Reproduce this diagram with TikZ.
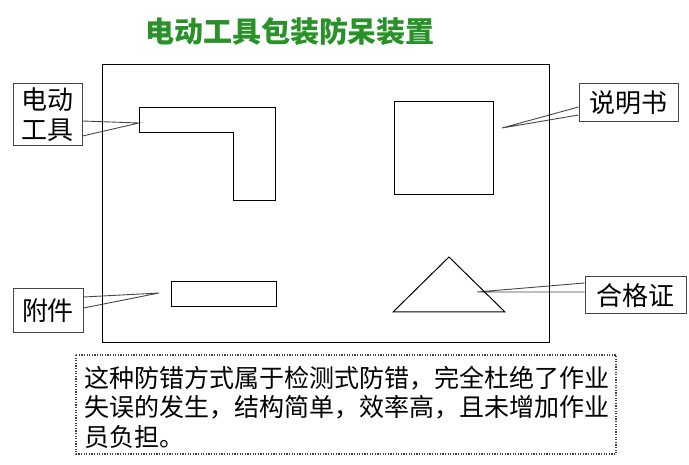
\documentclass[tikz,border=0pt]{standalone}
\usepackage{fontspec}
\newfontfamily\cjk{Noto Sans CJK SC}
\usetikzlibrary{calc}
\definecolor{titlegreen}{RGB}{40,145,40}
\definecolor{calloutgray}{RGB}{70,70,70}
\tikzset{
  outline/.style={draw=black, line width=1pt},
  callbox/.style={draw=calloutgray, line width=1pt, fill=white, inner sep=0pt, align=center,
    font=\cjk\fontsize{26}{30}\selectfont},
  wedge/.style={draw=calloutgray, line width=0.9pt},
}
\begin{document}
\begin{tikzpicture}[x=1pt,y=-1pt]
\useasboundingbox (0,0) rectangle (689,465);
% title
\node[font=\cjk\bfseries\fontsize{29}{30}\selectfont, text=titlegreen, inner sep=0pt] (title) at (290,31) {电动工具包装防呆装置};
% callouts (drawn first so the main frame shows through the pointers)
\coordinate (pA) at (139,123);
\coordinate (pB) at (502,128);
\coordinate (pC) at (159,293);
\coordinate (pD) at (477,292);
\node[callbox, minimum width=69pt, minimum height=62pt] (lA) at (47.5,115) {电动\\工具};
\node[callbox, minimum width=99pt, minimum height=38pt] (lB) at (628.5,103) {说明书};
\node[callbox, minimum width=70pt, minimum height=44pt] (lC) at (48,311) {附件};
\node[callbox, minimum width=101pt, minimum height=37pt] (lD) at (635.5,295.5) {合格证};
\draw[wedge] ([yshift=-6pt]lA.east) -- (pA) -- ([yshift=-21pt]lA.east);
\draw[wedge] ([yshift=-4pt]lB.west) -- (pB) -- ([yshift=-12pt]lB.west);
\draw[wedge] ([yshift=14pt]lC.east) -- (pC) -- ([yshift=3pt]lC.east);
\draw[wedge] ([yshift=12.5pt]lD.west) -- (pD) -- ([yshift=3.5pt]lD.west);
% main frame
\draw[outline] (102,65) rectangle (549,343);
% L-shaped tool
\draw[outline] (139,108) -- (275,108) -- (275,201) -- (233,201) -- (233,133) -- (139,133) -- cycle;
% manual square
\draw[outline] (394,102) rectangle (493,195);
% accessory
\draw[outline] (171,282) rectangle (276,307);
% certificate triangle
\draw[outline] (449,257) -- (505,312) -- (393,312) -- cycle;
% note box
\draw[draw=gray!50!black, line width=1.3pt, dash pattern=on 1.2pt off 1.4pt] (76,355) rectangle (616,454);
\node[anchor=west, align=left, inner sep=0pt, font=\cjk\fontsize{25}{29.5}\selectfont] (note) at (84,407) {这种防错方式属于检测式防错，完全杜绝了作业\\失误的发生，结构简单，效率高，且未增加作业\\员负担。};
\end{tikzpicture}
\end{document}
